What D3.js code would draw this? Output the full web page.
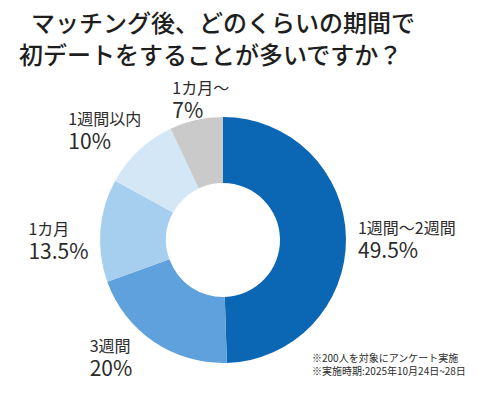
<!DOCTYPE html>
<html>
<head>
<meta charset="utf-8">
<script src="https://cdn.jsdelivr.net/npm/d3@7"></script>
<style>
  html, body { margin: 0; padding: 0; background: #fff; }
  svg text { font-family: "Noto Sans CJK JP", "Noto Sans", sans-serif; fill: #2b2b2b; }
</style>
</head>
<body>
<div id="chart"></div>
<script>
'use strict';

// data
var categories = ['1週間〜2週間', '3週間', '1カ月', '1週間以内', '1カ月〜'];
var percents = [49.5, 20, 13.5, 10, 7];
var percentLabels = ['49.5%', '20%', '13.5%', '10%', '7%'];
var titleLines = ['マッチング後、どのくらいの期間で', '初デートをすることが多いですか？'];
var notes = ['※200人を対象にアンケート実施', '※実施時期:2025年10月24日~28日'];

// layout
var w = 480, h = 399;
var cx = 223, cy = 240, outerR = 123, innerR = 57, labelR = 150;
var colors = ['#0b66b3', '#5ea1dc', '#a6cfef', '#d4e7f6', '#cacaca'];
var labelNudge = [[-15, -4], [-49, -12], [-45, 7], [-52, -6], [-18, 0]];

var svg = d3.select('#chart')
  .append('svg')
  .attr('width', w)
  .attr('height', h)
  .attr('viewBox', '0 0 ' + w + ' ' + h);

// title
svg.selectAll('text.title')
  .data(titleLines)
  .enter()
  .append('text')
  .attr('class', 'title')
  .attr('x', function (d, i) { return i === 0 ? 31 : 19; })
  .attr('y', function (d, i) { return 32 + i * 32; })
  .attr('font-size', '24px')
  .attr('font-weight', 500)
  .style('fill', '#1e1e1e')
  .text(function (d) { return d; });

var pie = d3.pie().sort(null).value(function (d) { return d; });
var arcs = pie(percents);

var arc = d3.arc().innerRadius(innerR).outerRadius(outerR);
var labelArc = d3.arc().innerRadius(labelR).outerRadius(labelR);

var g = svg.append('g').attr('transform', 'translate(' + cx + ',' + cy + ')');

g.selectAll('path')
  .data(arcs)
  .enter()
  .append('path')
  .attr('d', arc)
  .attr('fill', function (d, i) { return colors[i]; });

// labels: category + percent as one text with two lines
var labels = svg.selectAll('text.label')
  .data(arcs)
  .enter()
  .append('text')
  .attr('class', 'label')
  .attr('transform', function (d, i) {
    var c = labelArc.centroid(d);
    return 'translate(' + (cx + c[0] + labelNudge[i][0]) + ',' + (cy + c[1] + labelNudge[i][1]) + ')';
  });

labels.append('tspan')
  .attr('x', 0)
  .attr('y', 0)
  .attr('font-size', '16px')
  .text(function (d, i) { return categories[i]; });

labels.append('tspan')
  .attr('x', 0)
  .attr('y', 24)
  .attr('font-size', '21px')
  .text(function (d, i) { return percentLabels[i]; });

// footnotes
svg.selectAll('text.note')
  .data(notes)
  .enter()
  .append('text')
  .attr('class', 'note')
  .attr('x', 312)
  .attr('y', function (d, i) { return 362 + i * 13; })
  .attr('font-size', '10px')
  .text(function (d) { return d; });
</script>
</body>
</html>
